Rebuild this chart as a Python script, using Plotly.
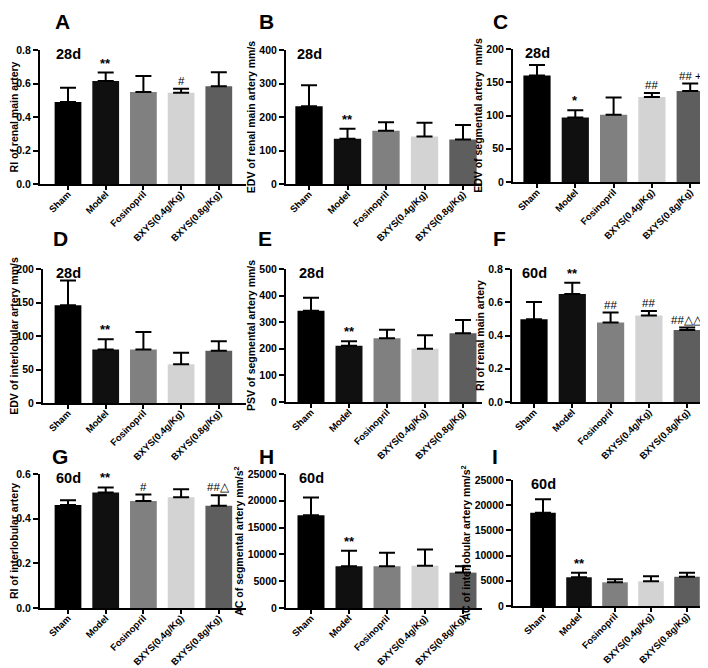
import plotly.graph_objects as go

categories = ["Sham", "Model", "Fosinopril", "BXYS(0.4g/Kg)", "BXYS(0.8g/Kg)"]
bar_colors = ["#000000", "#101010", "#808080", "#d3d3d3", "#5e5e5e"]

# Panel A: RI of renal main artery, 28d
a_mean = [0.49, 0.615, 0.55, 0.545, 0.583]
a_sd = [0.085, 0.05, 0.095, 0.023, 0.084]
a_marks = ["", "**", "", "#", ""]
# Panel B: EDV of renal main artery, 28d
b_mean = [232, 135, 159, 142, 133]
b_sd = [63, 30, 25, 41, 43]
b_marks = ["", "**", "", "", ""]
# Panel C: EDV of segmental artery, 28d
c_mean = [160, 97, 101, 128, 137]
c_sd = [16, 11, 26, 6, 11]
c_marks = ["", "*", "", "##", "## +"]
# Panel D: EDV of interlobular artery, 28d
d_mean = [146, 80, 80, 58, 78]
d_sd = [37, 15, 26, 17, 14]
d_marks = ["", "**", "", "", ""]
# Panel E: PSV of segmental artery, 28d
e_mean = [343, 211, 240, 200, 258]
e_sd = [49, 17, 32, 51, 50]
e_marks = ["", "**", "", "", ""]
# Panel F: RI of renal main artery, 60d
f_mean = [0.497, 0.65, 0.478, 0.52, 0.433]
f_sd = [0.105, 0.068, 0.06, 0.028, 0.015]
f_marks = ["", "**", "##", "##", "##△△"]
# Panel G: RI of interlobular artery, 60d
g_mean = [0.461, 0.517, 0.479, 0.496, 0.458]
g_sd = [0.022, 0.023, 0.029, 0.036, 0.047]
g_marks = ["", "**", "#", "", "##△"]
# Panel H: AC of segmental artery, 60d
h_mean = [17300, 7800, 7800, 7900, 6600]
h_sd = [3300, 2900, 2500, 3000, 1200]
h_marks = ["", "**", "", "", ""]
# Panel I: AC of interlobular artery, 60d
i_mean = [18500, 5700, 4700, 4900, 5800]
i_sd = [2700, 900, 600, 1000, 800]
i_marks = ["", "**", "", "", ""]

panel_letters = ["A", "B", "C", "D", "E", "F", "G", "H", "I"]
periods = ["28d", "28d", "28d", "28d", "28d", "60d", "60d", "60d", "60d"]
y_titles = [
    "RI of renal main artery",
    "EDV of renal main artery mm/s",
    "EDV of segmental artery  mm/s",
    "EDV of interlobular artery mm/s",
    "PSV of segmental artery mm/s",
    "RI of renal main artery",
    "RI of interlobular artery",
    "AC of segmental artery mm/s<sup>2</sup>",
    "AC of interlobular artery mm/s<sup>2</sup>",
]
y_max = [0.8, 400, 200, 200, 500, 0.8, 0.6, 25000, 25000]
y_dtick = [0.2, 100, 50, 50, 100, 0.2, 0.2, 5000, 5000]
means = [a_mean, b_mean, c_mean, d_mean, e_mean, f_mean, g_mean, h_mean, i_mean]
sds = [a_sd, b_sd, c_sd, d_sd, e_sd, f_sd, g_sd, h_sd, i_sd]
marks = [a_marks, b_marks, c_marks, d_marks, e_marks, f_marks, g_marks, h_marks, i_marks]

# geometry (pixels): y-axis x, first bar center, bar spacing, x-axis end, top, bottom
W, H = 708, 668
geom = [
    (32, 60, 37.7, 238, 42, 176),
    (278, 301, 38.5, 474, 42, 176),
    (505, 529, 38.3, 706, 41, 174),
    (35, 60, 37.7, 238, 261, 395),
    (278, 303, 38.0, 474, 261, 394),
    (504, 526, 38.3, 701, 261, 394),
    (32, 60, 37.7, 238, 466, 600),
    (278, 303, 38.0, 474, 466, 600),
    (505, 535, 36.0, 706, 472, 598),
]
letter_pos = [(54, 13), (258, 13), (492, 13), (52, 231), (257, 231), (491, 231),
              (52, 448), (258, 448), (487, 448)]

FONT = "Liberation Sans, Arial, Helvetica, sans-serif"
fig = go.Figure()
annotations = []
layout = dict(
    width=W, height=H, margin=dict(l=0, r=0, t=0, b=0),
    plot_bgcolor="white", paper_bgcolor="white", showlegend=False,
    bargap=0.29, font=dict(family=FONT, color="black"),
)

for k in range(9):
    x0, c0, s, x1, yt, yb = geom[k]
    n = "" if k == 0 else str(k + 1)
    xa, ya = "x" + n, "y" + n
    err = sds[k]
    fig.add_trace(go.Bar(
        x=categories, y=means[k], xaxis=xa, yaxis=ya,
        marker=dict(color=bar_colors, line=dict(width=0)),
        error_y=dict(type="data", array=err, arrayminus=[0] * 5, symmetric=False,
                     color="black", thickness=2, width=8),
        hoverinfo="skip",
    ))
    r0 = -(c0 - x0) / s
    r1 = 4 + (x1 - (c0 + 4 * s)) / s
    layout["xaxis" + n] = dict(
        domain=[x0 / W, x1 / W], anchor=ya, range=[r0, r1],
        type="category", categoryorder="array", categoryarray=categories,
        tickmode="array", tickvals=categories,
        ticktext=["<b>" + c + "</b>" for c in categories],
        showline=True, linewidth=2, linecolor="black", ticks="outside",
        ticklen=4, tickwidth=2, tickcolor="black", tickangle=-45,
        ticklabelstandoff=-5,
        tickfont=dict(size=9.5, family=FONT), showgrid=False,
        zeroline=False, automargin=False, fixedrange=True,
    )
    rnd = y_dtick[k] < 1
    nt = int(round(y_max[k] / y_dtick[k]))
    tv = [y_dtick[k] * t for t in range(nt + 1)]
    tt = ["<b>" + (("%.1f" % v) if rnd else ("%d" % round(v))) + "</b>" for v in tv]
    layout["yaxis" + n] = dict(
        domain=[1 - yb / H, 1 - yt / H], anchor=xa, range=[0, y_max[k]],
        tickmode="array", tickvals=tv, ticktext=tt,
        showline=True, linewidth=2, linecolor="black", ticks="outside",
        ticklen=5, tickwidth=2, tickcolor="black",
        tickfont=dict(size=10.5, family=FONT), showgrid=False,
        zeroline=False, automargin=False, fixedrange=True,
        title=dict(text="<b>" + y_titles[k] + "</b>", standoff=2,
                   font=dict(size=10.5, family=FONT)),
    )
    # period label
    annotations.append(dict(
        text="<b>" + periods[k] + "</b>", x=categories[0], xref=xa,
        y=0.97, yref=ya + " domain", xanchor="center", yanchor="middle",
        showarrow=False, font=dict(size=14.5, family=FONT),
    ))
    # significance marks
    for j in range(5):
        m = marks[k][j]
        if m:
            star = m.startswith("*")
            annotations.append(dict(
                text=("<b>" + m + "</b>") if star else m, x=categories[j], xref=xa,
                y=means[k][j] + err[j], yref=ya, xanchor="center", yanchor="bottom",
                showarrow=False, yshift=0,
                font=dict(size=13 if star else 11.5, family=FONT),
            ))
    # panel letter
    lx, ly = letter_pos[k]
    annotations.append(dict(
        text="<b>" + panel_letters[k] + "</b>", x=lx / W, y=1 - ly / H,
        xref="paper", yref="paper", xanchor="center", yanchor="middle",
        showarrow=False, font=dict(size=21, family=FONT),
    ))

layout["annotations"] = annotations
fig.update_layout(**layout)
fig.write_html("out.html")
